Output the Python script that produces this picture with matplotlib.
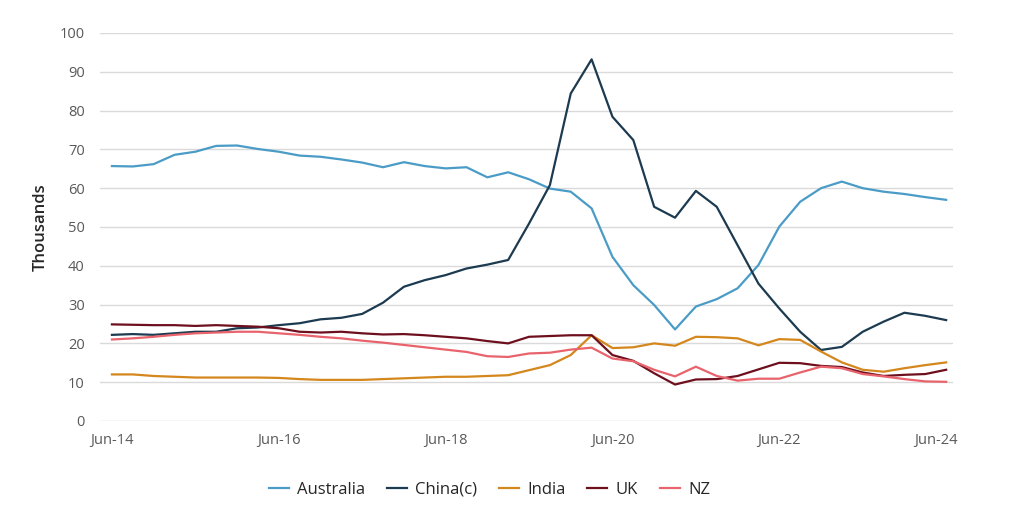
import matplotlib
matplotlib.use("Agg")
import matplotlib.pyplot as plt
from matplotlib.transforms import offset_copy

plt.rcParams['font.family'] = ['Open Sans', 'DejaVu Sans']

# Quarterly, Jun-14 .. Jun-24 (41 points), thousands
australia = [65.7, 65.6, 66.2, 68.6, 69.4, 70.9, 71.0, 70.1, 69.4, 68.4,
             68.1, 67.4, 66.6, 65.4, 66.7, 65.7, 65.1, 65.4, 62.8, 64.1,
             62.3, 59.9, 59.1, 54.8, 42.3, 35.0, 29.9, 23.6, 29.5, 31.4,
             34.2, 40.2, 50.1, 56.5, 60.0, 61.7, 60.0, 59.1, 58.5, 57.7, 57.0]
china = [22.2, 22.4, 22.2, 22.6, 23.0, 23.0, 23.9, 24.1, 24.7, 25.2,
         26.2, 26.6, 27.6, 30.5, 34.6, 36.3, 37.6, 39.3, 40.3, 41.5,
         50.9, 60.8, 84.4, 93.2, 78.4, 72.4, 55.2, 52.4, 59.3, 55.2,
         45.3, 35.4, 29.0, 23.0, 18.3, 19.1, 23.0, 25.6, 27.9, 27.1, 26.0]
india = [12.0, 12.0, 11.6, 11.4, 11.2, 11.2, 11.2, 11.2, 11.1, 10.8,
         10.6, 10.6, 10.6, 10.8, 11.0, 11.2, 11.4, 11.4, 11.6, 11.8,
         13.1, 14.4, 17.0, 22.1, 18.8, 19.0, 20.0, 19.4, 21.7, 21.6,
         21.3, 19.5, 21.1, 20.9, 17.9, 15.1, 13.2, 12.7, 13.6, 14.4, 15.1]
uk = [24.9, 24.8, 24.7, 24.7, 24.5, 24.7, 24.5, 24.3, 23.9, 23.0,
      22.8, 23.0, 22.6, 22.3, 22.4, 22.1, 21.7, 21.3, 20.6, 20.0,
      21.7, 21.9, 22.1, 22.1, 17.0, 15.5, 12.3, 9.4, 10.7, 10.8,
      11.6, 13.3, 15.0, 14.9, 14.2, 13.9, 12.5, 11.6, 11.9, 12.1, 13.2]
nz = [21.0, 21.3, 21.7, 22.2, 22.6, 22.8, 23.0, 23.0, 22.6, 22.2,
      21.7, 21.3, 20.7, 20.2, 19.6, 19.0, 18.4, 17.8, 16.7, 16.5,
      17.4, 17.6, 18.4, 18.9, 16.1, 15.4, 13.2, 11.5, 14.0, 11.6,
      10.4, 10.9, 10.9, 12.5, 14.0, 13.6, 12.1, 11.5, 10.8, 10.2, 10.1]

series_names = ["Australia", "China(c)", "India", "UK", "NZ"]
colors = ["#4a9cc6", "#1c3a50", "#d4871c", "#6e0f1e", "#e8636c"]
tick_idx = [0, 8, 16, 24, 32, 40]
tick_labels = ["Jun-14", "Jun-16", "Jun-18", "Jun-20", "Jun-22", "Jun-24"]
y_ticks = list(range(0, 101, 10))

fig = plt.figure(figsize=(10.24, 5.09), dpi=100)
ax = fig.add_axes([0.0977, 0.1729, 0.8330, 0.7623])

x = list(range(len(australia)))
for data, name, c in zip([australia, china, india, uk, nz], series_names, colors):
    ax.plot(x, data, color=c, lw=1.6, label=name, solid_joinstyle='round')

ax.set_xlim(-0.57, 40.33)
ax.set_ylim(0, 100)
ax.set_yticks(y_ticks)
ax.grid(axis='y', color='#dadada', lw=1.0)
ax.set_axisbelow(True)
for s in ax.spines.values():
    s.set_visible(False)
ax.tick_params(axis='y', length=0, pad=11, labelsize=10.5, labelcolor='#595959')
ax.tick_params(axis='x', length=0, pad=9, labelsize=10.5, labelcolor='#595959')
ax.set_xticks(tick_idx)
ax.set_xticklabels(tick_labels)
last = ax.get_xticklabels()[-1]
last.set_horizontalalignment('right')
last.set_transform(offset_copy(last.get_transform(), fig=fig, x=12, y=0, units='dots'))

ax.set_ylabel("Thousands", fontsize=12, color='#262626', fontweight='semibold', labelpad=8)

fig.legend(loc='center', bbox_to_anchor=(0.478, 0.038), ncol=5, frameon=False,
           fontsize=12, handlelength=1.2, handletextpad=0.5, columnspacing=1.3,
           labelcolor='#262626')

fig.savefig("out.png", dpi=100)
